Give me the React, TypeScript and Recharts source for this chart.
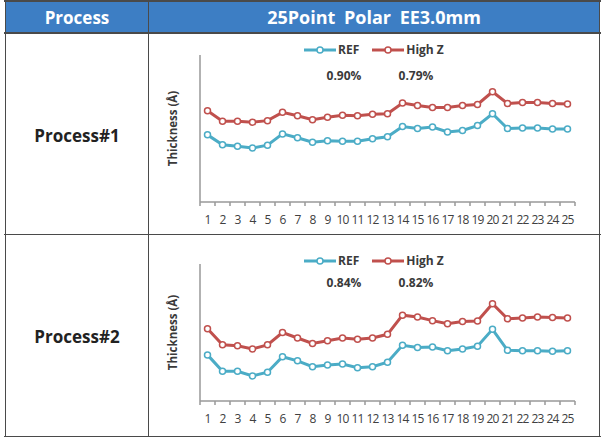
import React from "react";
import { LineChart, Line, XAxis, YAxis } from "recharts";

// Measurement points along the wafer edge
const pointLabels = [
  "1", "2", "3", "4", "5", "6", "7", "8", "9", "10", "11", "12", "13",
  "14", "15", "16", "17", "18", "19", "20", "21", "22", "23", "24", "25",
];

// Process#1 thickness (relative units)
const p1Ref = [
  1.37, 1.17, 1.14, 1.1, 1.16, 1.39, 1.31, 1.22, 1.25, 1.24, 1.24, 1.29, 1.33,
  1.54, 1.5, 1.53, 1.43, 1.46, 1.56, 1.8, 1.5, 1.51, 1.51, 1.49, 1.49,
];
const p1HighZ = [
  1.86, 1.65, 1.65, 1.63, 1.66, 1.83, 1.76, 1.68, 1.73, 1.77, 1.76, 1.79, 1.8,
  2.02, 1.97, 1.93, 1.93, 1.97, 1.99, 2.25, 2.01, 2.03, 2.03, 2.01, 2.0,
];
const p1Uniformity = ["0.90%", "0.79%"];

// Process#2 thickness (relative units)
const p2Ref = [
  1.01, 0.65, 0.65, 0.55, 0.63, 0.97, 0.88, 0.75, 0.79, 0.81, 0.73, 0.75, 0.85,
  1.22, 1.17, 1.18, 1.1, 1.14, 1.2, 1.57, 1.11, 1.1, 1.1, 1.09, 1.1,
];
const p2HighZ = [
  1.58, 1.23, 1.21, 1.14, 1.23, 1.5, 1.38, 1.26, 1.32, 1.38, 1.35, 1.38, 1.46,
  1.88, 1.84, 1.76, 1.69, 1.74, 1.75, 2.13, 1.8, 1.82, 1.84, 1.83, 1.82,
];
const p2Uniformity = ["0.84%", "0.82%"];

const seriesNames = ["REF", "High Z"];
const yTicks = [0, 1, 2, 3];
const headerLabels = ["Process", "25Point Polar EE3.0mm"];
const rowLabels = ["Process#1", "Process#2"];

const REF_COLOR = "#4BACC6";
const HIGHZ_COLOR = "#C0504D";
const AXIS_COLOR = "#999999";
const BORDER = "#4a4a4a";
const FONT = "'Open Sans', 'Noto Sans', sans-serif";

// label ticks on integers, short marks on half steps (between points)
const xTicks: number[] = [];
for (let i = 0; i <= pointLabels.length; i++) {
  xTicks.push(i + 0.5);
  if (i < pointLabels.length) xTicks.push(i + 1);
}
xTicks.sort((a, b) => a - b);

const TICK_SIZE = 6;
const TICK_MARGIN = 2;

const XTick = (props: any) => {
  const { x, y, payload } = props;
  const v = payload.value as number;
  const axisY = y - TICK_SIZE - TICK_MARGIN;
  if (Number.isInteger(v)) {
    return (
      <text
        x={x}
        y={axisY + 13}
        dy="0.71em"
        textAnchor="middle"
        fontSize={12}
        fontFamily={FONT}
        fill="#404040"
        letterSpacing={-0.8}
      >
        {pointLabels[v - 1]}
      </text>
    );
  }
  return <line x1={x} x2={x} y1={axisY} y2={axisY + 4} stroke={AXIS_COLOR} strokeWidth={1.5} />;
};

const buildRows = (ref: number[], highZ: number[]) =>
  pointLabels.map((_, i) => ({ pt: i + 1, ref: ref[i], highZ: highZ[i] }));

const LegendIcon = ({ color }: { color: string }) => (
  <svg width={32} height={10} style={{ display: "block" }}>
    <line x1={0} y1={5} x2={32} y2={5} stroke={color} strokeWidth={3} />
    <circle cx={16} cy={5} r={3} fill="#fff" stroke={color} strokeWidth={1.5} />
  </svg>
);

interface PanelProps {
  top: number;
  height: number;
  ref1: number[];
  highZ: number[];
  uniformity: string[];
  legendTop: number;
  pctTop: number;
}

const Panel = ({ top, height, ref1, highZ, uniformity, legendTop, pctTop }: PanelProps) => {
  const rows = buildRows(ref1, highZ);
  const textStyle: React.CSSProperties = {
    fontFamily: FONT,
    fontWeight: 700,
    fontSize: 12,
    color: "#3a3a3a",
    lineHeight: "14px",
    whiteSpace: "nowrap",
  };
  return (
    <>
      <div style={{ position: "absolute", left: 150, top }}>
        <LineChart
          width={430}
          height={height}
          data={rows}
          margin={{ top: 19, right: 5, bottom: 0, left: 0 }}
        >
          <XAxis
            dataKey="pt"
            type="number"
            domain={[0.5, 25.5]}
            ticks={xTicks}
            interval={0}
            tick={<XTick />}
            tickLine={false}
            tickSize={TICK_SIZE}
            tickMargin={TICK_MARGIN}
            axisLine={{ stroke: AXIS_COLOR, strokeWidth: 1.5 }}
            stroke={AXIS_COLOR}
            height={25}
          />
          <YAxis
            type="number"
            domain={[0, 3]}
            ticks={yTicks}
            tick={false}
            tickSize={4}
            stroke={AXIS_COLOR}
            tickLine={{ stroke: AXIS_COLOR, strokeWidth: 1.5 }}
            axisLine={{ stroke: AXIS_COLOR, strokeWidth: 1.5 }}
            width={50}
            label={{
              value: "Thickness (Å)",
              angle: -90,
              position: "center",
              dx: -2,
              style: {
                fontFamily: FONT,
                fontWeight: 700,
                fontSize: 11.5,
                fill: "#3a3a3a",
              },
            }}
          />
          <Line
            type="linear"
            dataKey="ref"
            name={seriesNames[0]}
            stroke={REF_COLOR}
            strokeWidth={3}
            dot={{ r: 3, fill: "#fff", stroke: REF_COLOR, strokeWidth: 1.5 }}
            isAnimationActive={false}
          />
          <Line
            type="linear"
            dataKey="highZ"
            name={seriesNames[1]}
            stroke={HIGHZ_COLOR}
            strokeWidth={3}
            dot={{ r: 3, fill: "#fff", stroke: HIGHZ_COLOR, strokeWidth: 1.5 }}
            isAnimationActive={false}
          />
        </LineChart>
      </div>
      {/* legend */}
      <div
        style={{
          position: "absolute",
          left: 304,
          top: legendTop,
          display: "flex",
          alignItems: "center",
        }}
      >
        <LegendIcon color={REF_COLOR} />
        <span style={{ ...textStyle, marginLeft: 2, marginRight: 13 }}>{seriesNames[0]}</span>
        <LegendIcon color={HIGHZ_COLOR} />
        <span style={{ ...textStyle, marginLeft: 2 }}>{seriesNames[1]}</span>
      </div>
      {/* uniformity values */}
      <div
        style={{
          ...textStyle,
          position: "absolute",
          left: 344,
          top: pctTop,
          transform: "translateX(-50%)",
        }}
      >
        {uniformity[0]}
      </div>
      <div
        style={{
          ...textStyle,
          position: "absolute",
          left: 416,
          top: pctTop,
          transform: "translateX(-50%)",
        }}
      >
        {uniformity[1]}
      </div>
    </>
  );
};

export default function App() {
  const cellText: React.CSSProperties = {
    position: "absolute",
    fontFamily: FONT,
    fontWeight: 700,
    whiteSpace: "nowrap",
    transform: "translate(-50%, -50%)",
  };
  return (
    <div
      style={{
        position: "absolute",
        left: 0,
        top: 0,
        width: 604,
        height: 438,
        background: "#fff",
        overflow: "hidden",
      }}
    >
      {/* header band */}
      <div
        style={{
          position: "absolute",
          left: 5,
          top: 0,
          width: 595,
          height: 32,
          background: "#3D7EC4",
        }}
      />
      <div style={{ ...cellText, left: 77, top: 17, fontSize: 17, color: "#fff" }}>
        {headerLabels[0]}
      </div>
      <div
        style={{ ...cellText, left: 374, top: 17, fontSize: 18, color: "#fff", wordSpacing: 4 }}
      >
        {headerLabels[1]}
      </div>

      {/* grid lines */}
      <div style={{ position: "absolute", left: 4, top: 0, width: 597, height: 1.5, background: BORDER }} />
      <div style={{ position: "absolute", left: 4, top: 32, width: 597, height: 1.5, background: BORDER }} />
      <div style={{ position: "absolute", left: 4, top: 233.5, width: 597, height: 1.5, background: BORDER }} />
      <div style={{ position: "absolute", left: 4, top: 435.5, width: 597, height: 1.5, background: BORDER }} />
      <div style={{ position: "absolute", left: 4.5, top: 0, width: 1.5, height: 437, background: BORDER }} />
      <div style={{ position: "absolute", left: 147.5, top: 0, width: 1.5, height: 437, background: BORDER }} />
      <div style={{ position: "absolute", left: 598.5, top: 0, width: 1.5, height: 437, background: BORDER }} />

      <div style={{ ...cellText, left: 77, top: 135, fontSize: 17, color: "#222" }}>
        {rowLabels[0]}
      </div>
      <div style={{ ...cellText, left: 77, top: 336, fontSize: 17, color: "#222" }}>
        {rowLabels[1]}
      </div>

      <Panel
        top={36}
        height={191}
        ref1={p1Ref}
        highZ={p1HighZ}
        uniformity={p1Uniformity}
        legendTop={43}
        pctTop={69}
      />
      <Panel
        top={245}
        height={181}
        ref1={p2Ref}
        highZ={p2HighZ}
        uniformity={p2Uniformity}
        legendTop={254}
        pctTop={276}
      />
    </div>
  );
}
